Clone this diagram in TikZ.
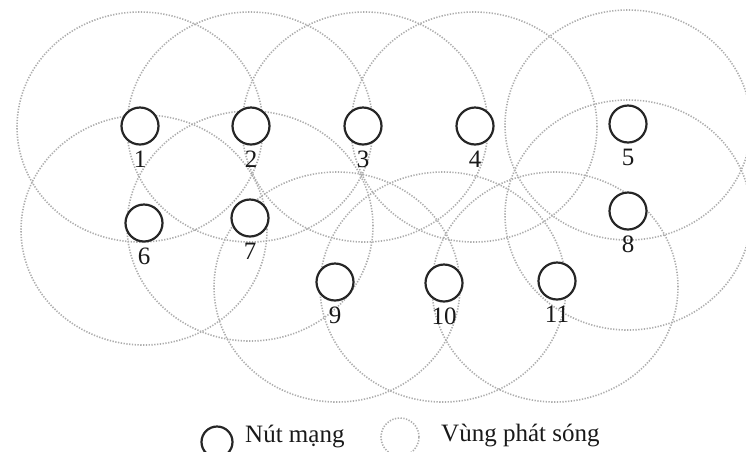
\documentclass[tikz,border=0pt]{standalone}
\usepackage{fontspec}
\setmainfont{Liberation Serif}
\begin{document}
\begin{tikzpicture}[x=1pt,y=-1pt,
  net/.style={circle,draw=black!85,line width=2.2pt,fill=white,minimum size=37pt,inner sep=0pt},
  cover/.style={draw=black!32,line width=1.6pt,dash pattern=on 1.3pt off 1.5pt},
  lab/.style={inner sep=0pt,anchor=north,font=\fontsize{25}{25}\selectfont,text=black!90},
  legtext/.style={inner sep=0pt,anchor=base west,font=\fontsize{25}{25}\selectfont,text=black!90}
]
\useasboundingbox (0,0) rectangle (746,451);
\clip (0,0) rectangle (746,451);
% coverage regions
\foreach \cx/\cy in {140/127,250/127,365/127,474/127,628/125,
                     144/230,250/226,628/215,
                     337/287,443/287,555/287}
  \draw[cover] (\cx,\cy) ellipse [x radius=123pt, y radius=115pt];
% network nodes
\node[net] (n1) at (140,126) {};
\node[net] (n2) at (251,126) {};
\node[net] (n3) at (363,126) {};
\node[net] (n4) at (475,126) {};
\node[net] (n5) at (628,124) {};
\node[net] (n6) at (144,223) {};
\node[net] (n7) at (250,218) {};
\node[net] (n8) at (628,211) {};
\node[net] (n9) at (335,282) {};
\node[net] (n10) at (444,283) {};
\node[net] (n11) at (557,281) {};
\foreach \i in {1,...,11}
  \node[lab] (l\i) at ([yshift=-5pt]n\i.south) {\i};
% legend
\node[circle,draw=black!85,line width=2.2pt,minimum size=31pt,inner sep=0pt] (legnet) at (217,442) {};
\node[legtext] (legnettext) at (245,442) {Nút mạng};
\node[circle,cover,minimum size=38pt,inner sep=0pt] (legcover) at (400,437) {};
\node[legtext] (legcovertext) at (441,441) {Vùng phát sóng};
\end{tikzpicture}
\end{document}
